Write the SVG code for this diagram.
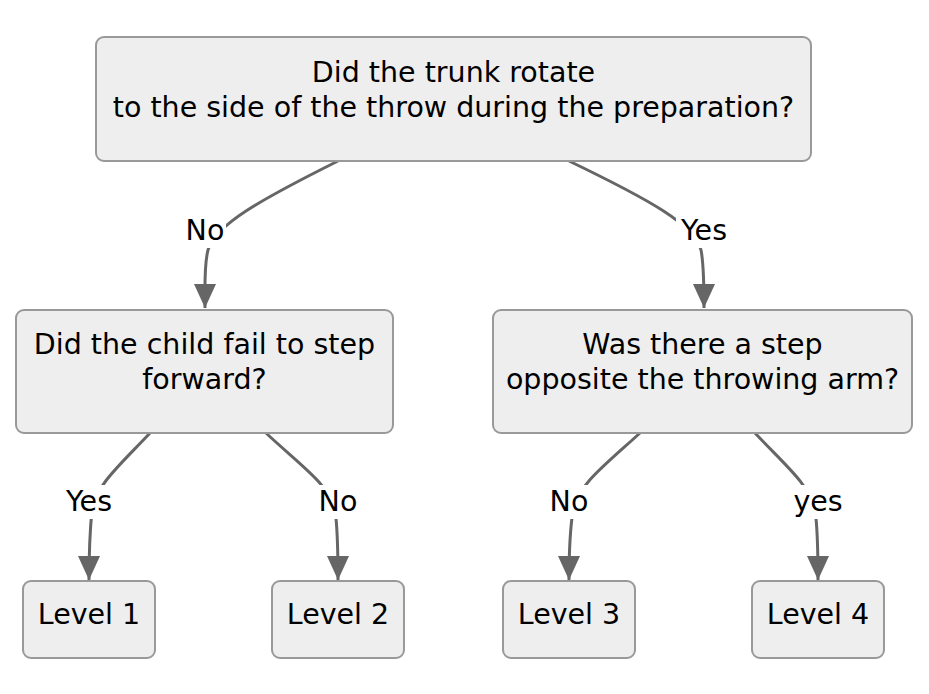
<svg xmlns="http://www.w3.org/2000/svg" width="929" height="694" viewBox="0 0 929 694">
<defs>
<style>
.node rect{fill:#eeeeee;stroke:#999999;stroke-width:2}
.node text, .lbl text{font-family:"DejaVu Sans",sans-serif;font-size:28.5px;fill:#000;text-anchor:middle}
.edge{fill:none;stroke:#666666;stroke-width:3}
.lbl rect{fill:#ffffff}
</style>
<marker id="arrow" viewBox="0 0 24 22" refX="24" refY="11" markerWidth="24" markerHeight="22" markerUnits="userSpaceOnUse" orient="auto">
<path d="M0,0 L24,11 L0,22 z" fill="#666666"/>
</marker>
</defs>
<rect width="929" height="694" fill="#ffffff"/>
<g id="connectors">
<path class="edge" d="M338,161 C260,200 215,225 208,250 C204,265 205,285 205,308" marker-end="url(#arrow)"/>
<path class="edge" d="M569,161 C650,200 695,225 701,250 C704,265 704,285 704,308" marker-end="url(#arrow)"/>
<path class="edge" d="M150,433 C120,465 96,485 92,510 C90,530 89,555 89,580" marker-end="url(#arrow)"/>
<path class="edge" d="M266,433 C300,465 330,485 335,510 C338,530 338,555 338,580" marker-end="url(#arrow)"/>
<path class="edge" d="M640,433 C605,465 578,485 573,510 C570,530 569,555 569,580" marker-end="url(#arrow)"/>
<path class="edge" d="M755,433 C785,465 810,485 815,510 C818,530 818,555 818,580" marker-end="url(#arrow)"/>
<g class="lbl"><rect x="184" y="214" width="42" height="34"/><text x="205" y="240">No</text></g>
<g class="lbl"><rect x="676" y="214" width="56" height="34"/><text x="704" y="240">Yes</text></g>
<g class="lbl"><rect x="61" y="485" width="56" height="34"/><text x="89" y="511">Yes</text></g>
<g class="lbl"><rect x="317" y="485" width="42" height="34"/><text x="338" y="511">No</text></g>
<g class="lbl"><rect x="548" y="485" width="42" height="34"/><text x="569" y="511">No</text></g>
<g class="lbl"><rect x="791" y="485" width="54" height="34"/><text x="818" y="511">yes</text></g>
</g>
<g id="n0" class="node"><rect x="96" y="37" width="715" height="124" rx="8"/><text x="453.5" y="82">Did the trunk rotate</text><text x="453.5" y="117">to the side of the throw during the preparation?</text></g>
<g id="n1" class="node"><rect x="16" y="310" width="377" height="123" rx="8"/><text x="204.5" y="354">Did the child fail to step</text><text x="204.5" y="389">forward?</text></g>
<g id="n2" class="node"><rect x="493" y="310" width="419" height="123" rx="8"/><text x="702.5" y="354">Was there a step</text><text x="702.5" y="389">opposite the throwing arm?</text></g>
<g id="n3" class="node"><rect x="23" y="581" width="132" height="77" rx="8"/><text x="89" y="624">Level 1</text></g>
<g id="n4" class="node"><rect x="272" y="581" width="132" height="77" rx="8"/><text x="338" y="624">Level 2</text></g>
<g id="n5" class="node"><rect x="503" y="581" width="132" height="77" rx="8"/><text x="569" y="624">Level 3</text></g>
<g id="n6" class="node"><rect x="752" y="581" width="132" height="77" rx="8"/><text x="818" y="624">Level 4</text></g>
</svg>
